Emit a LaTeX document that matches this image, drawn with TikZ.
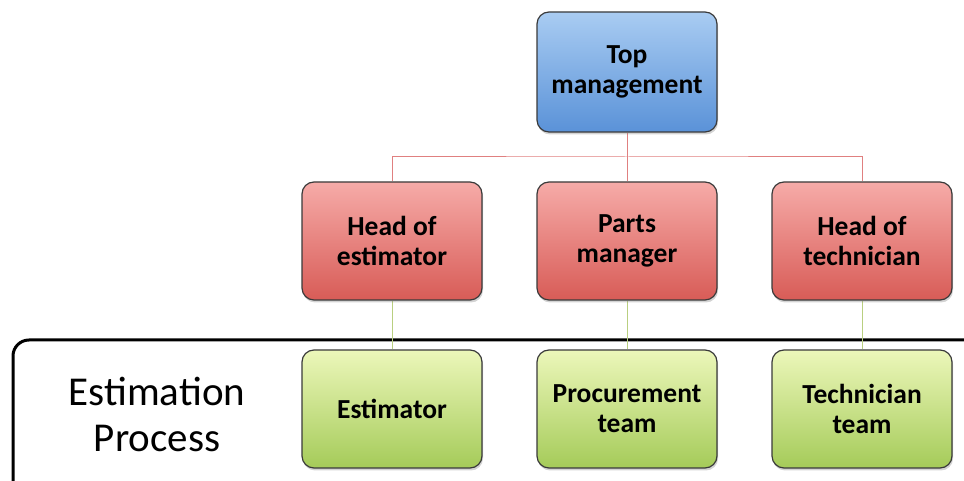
\documentclass[tikz,border=0pt]{standalone}
\usepackage{fontspec}
\setmainfont{Carlito}
\usetikzlibrary{shadows,backgrounds}
\definecolor{bluetop}{HTML}{A9CCF2}
\definecolor{bluebot}{HTML}{5A92D8}
\definecolor{redtop}{HTML}{F6ABA8}
\definecolor{redbot}{HTML}{D85C57}
\definecolor{greentop}{HTML}{ECF7BA}
\definecolor{greenbot}{HTML}{A5CB59}
\definecolor{boxedge}{HTML}{3A3A3A}
\definecolor{redline}{HTML}{E08080}
\definecolor{greenline}{HTML}{B9CF80}
\tikzset{
  box/.style={draw=boxedge, line width=1.2pt, rounded corners=12pt,
    minimum width=180pt, align=center,
    font=\fontsize{27.5}{30}\selectfont\bfseries,
    drop shadow={opacity=0.35, shadow xshift=1pt, shadow yshift=-2.5pt}},
  topbox/.style={box, minimum height=120pt, top color=bluetop, bottom color=bluebot},
  headbox/.style={box, minimum height=118pt, top color=redtop, bottom color=redbot},
  teambox/.style={box, minimum height=118pt, top color=greentop, bottom color=greenbot},
  redconn/.style={draw=redline, line width=1pt},
  greenconn/.style={draw=greenline, line width=1pt},
  frame/.style={draw=black, line width=3pt, rounded corners=16pt}
}
\begin{document}
\begin{tikzpicture}[x=1pt,y=1pt]
\useasboundingbox (0,0) rectangle (964,481);
% nodes
\node[topbox] (top) at (627,409) {Top\\management};
\node[headbox] (h1) at (392,240) {Head of\\estimator};
\node[headbox] (h2) at (627,240) {Parts\\manager};
\node[headbox] (h3) at (862,240) {Head of\\technician};
\node[teambox] (t1) at (392,72) {Estimator};
\node[teambox] (t2) at (627,72) {Procurement\\team};
\node[teambox] (t3) at (862,72) {Technician\\team};
\node[font=\fontsize{41}{46}\selectfont, align=center] (proc) at (157,67) {Estimation\\Process};
\coordinate (bus) at (627,324);
\begin{pgfonlayer}{background}
% process frame
\draw[frame] (990,-20) -- (990,141) -- (13,141) -- (13,-20);
% connectors
\draw[redconn] (top.south) -- (h2.north);
\draw[redconn] (h1.north) |- (bus) -| (h3.north);
\draw[greenconn] (h1.south) -- (t1.north);
\draw[greenconn] (h2.south) -- (t2.north);
\draw[greenconn] (h3.south) -- (t3.north);
\end{pgfonlayer}
\end{tikzpicture}
\end{document}
